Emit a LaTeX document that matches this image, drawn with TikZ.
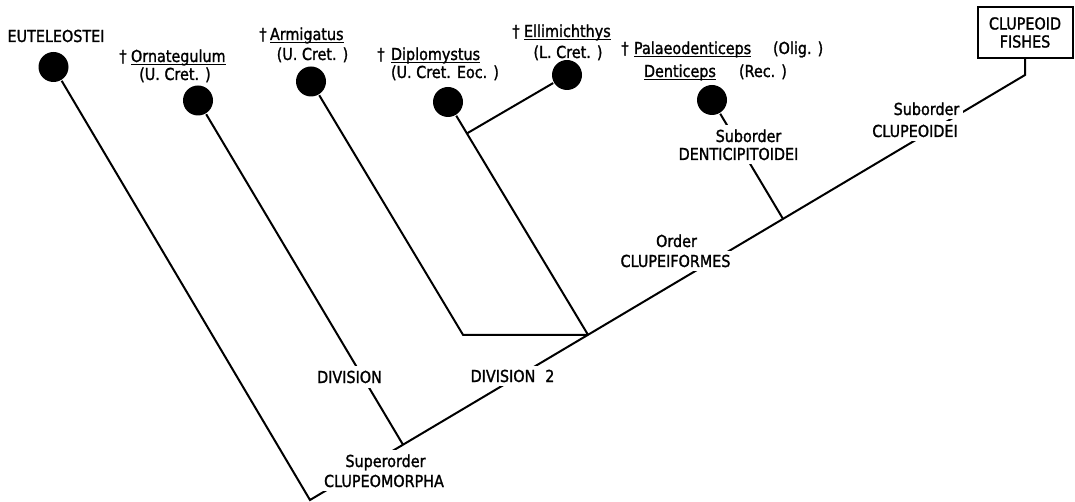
\documentclass[tikz,border=0pt]{standalone}
\usepackage{fontspec}
\setmainfont{DejaVu Sans}[FakeStretch=0.87,FakeBold=1.4]
\usetikzlibrary{calc}
\newcommand{\ulb}[1]{\setbox0=\hbox{#1}\rlap{\raisebox{-3.2pt}{\rule{\wd0}{1.5pt}}}\box0}
\begin{document}
\begin{tikzpicture}[x=1pt,y=-1pt, line width=2pt,
  every node/.style={font=\fontsize{16.5}{20}\selectfont, inner sep=0pt},
  lab/.style={anchor=base, inner sep=0pt},
  onl/.style={anchor=base, fill=white, inner sep=4pt},
  dot/.style={circle, fill=black, minimum size=30pt, inner sep=0pt},
  dag/.style={anchor=base}]
\useasboundingbox (0,0) rectangle (1075,502);
\fill[white] (0,0) rectangle (1075,502);
% taxa dots
\node[dot] (eut) at (53.5,67) {};
\node[dot] (orn) at (198,100.5) {};
\node[dot] (arm) at (311,81.5) {};
\node[dot] (dip) at (448,102) {};
\node[dot] (ell) at (567,75) {};
\node[dot] (den) at (712,100) {};
% box
\node[draw, line width=2pt, minimum width=95pt, minimum height=51pt, align=center,
      font=\fontsize{16.5}{18}\selectfont] (box) at (1025,32.5) {CLUPEOID\\FISHES};
% junctions
\coordinate (root) at (310,500);
\coordinate (j1) at (403,444.7);
\coordinate (j2) at (588,334.8);
\coordinate (j3) at (783,218.9);
\coordinate (top) at (1025,75);
\coordinate (ac) at (463,334.8);
\coordinate (eb) at ($(dip.center)!0.135!(j2)$);
% connectors
\draw[line join=miter] (eut) -- (root) -- (j1) -- (j2) -- (j3) -- (top) -- (box.south);
\draw (orn) -- (j1);
\draw (arm) -- (ac) -- (j2);
\draw (dip) -- (j2);
\draw (eb) -- (ell);
\draw (den) -- (j3);
% taxon labels
\node[lab] (teut) at (56,42) {EUTELEOSTEI};
\node[dag] (dorn) at (123,62) {†};
\node[lab, anchor=base west] (torn) at (130,62) {\ulb{Ornategulum}};
\node[lab] (torn2) at (175,80) {(U. Cret. )};
\node[dag] (darm) at (263,40) {†};
\node[lab, anchor=base west] (tarm) at (269,40) {\ulb{Armigatus}};
\node[lab] (tarm2) at (312.5,60) {(U. Cret. )};
\node[dag] (ddip) at (381,60) {†};
\node[lab, anchor=base west] (tdip) at (390,60) {\ulb{Diplomystus}};
\node[lab, anchor=base west] (tdip2) at (390,78) {(U. Cret. Eoc. )};
\node[dag] (dell) at (516,37) {†};
\node[lab, anchor=base west] (tell) at (523,37) {\ulb{Ellimichthys}};
\node[lab] (tell2) at (568,58) {(L. Cret. )};
\node[dag] (dpal) at (625,54) {†};
\node[lab, anchor=base west] (tpal) at (633,54) {\ulb{Palaeodenticeps}};
\node[lab, anchor=base west] (tolig) at (772,54) {(Olig. )};
\node[lab, anchor=base west] (tden) at (643,77) {\ulb{Denticeps}};
\node[lab, anchor=base west] (trec) at (738,77) {(Rec. )};
% group labels on the lines
\node[onl] (tsub1) at (748.5,142) {Suborder};
\node[onl] (tdent) at (738.5,160) {DENTICIPITOIDEI};
\node[onl] (tord) at (676.5,247) {Order};
\node[onl] (tclupf) at (675.5,267) {CLUPEIFORMES};
\node[onl] (tsub2) at (926.5,115) {Suborder};
\node[onl] (tclupd) at (915,137) {CLUPEOIDEI};
\node[onl, inner sep=5pt] (tdiv) at (349.5,383) {DIVISION};
\node[onl] (tdiv2) at (512.5,382) {DIVISION\hspace{0.6em}2};
\node[onl] (tsup) at (385.5,467) {Superorder};
\node[onl] (tclupm) at (384,487) {CLUPEOMORPHA};
\end{tikzpicture}
\end{document}
